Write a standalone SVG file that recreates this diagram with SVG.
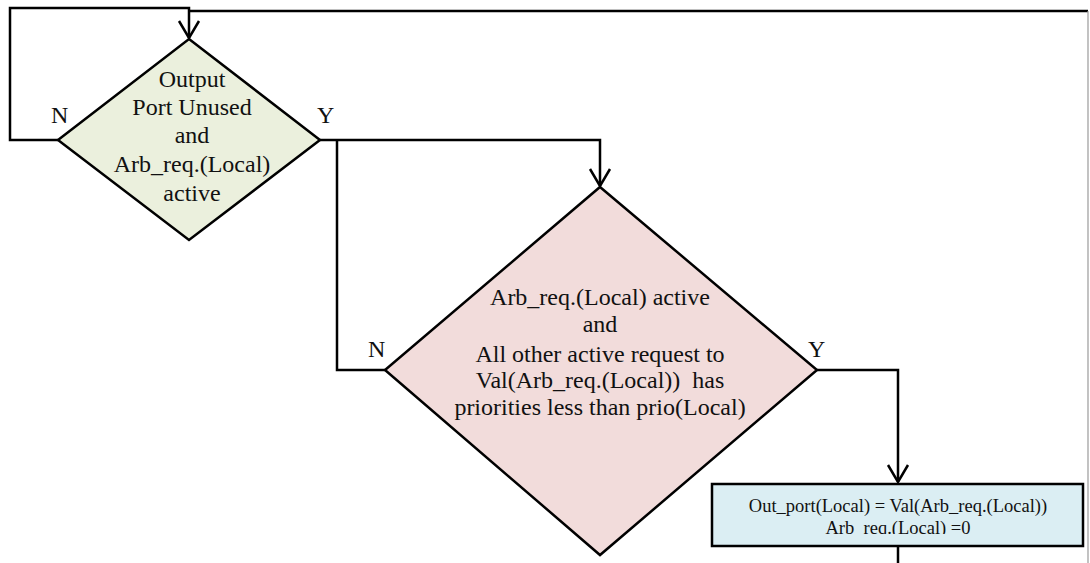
<svg xmlns="http://www.w3.org/2000/svg" width="1090" height="563" viewBox="0 0 1090 563">
  <style>
    .lbl { font-family: "Liberation Serif", "Times New Roman", serif; font-size: 24px; fill: #111; }
    .big { font-family: "Liberation Serif", "Times New Roman", serif; font-size: 24px; fill: #111; text-anchor: middle; }
    .small { font-family: "Liberation Serif", "Times New Roman", serif; font-size: 18.5px; fill: #111; text-anchor: middle; }
    .wire { fill: none; stroke: #000; stroke-width: 2.5; stroke-linejoin: miter; }
    .shape { stroke: #000; stroke-width: 2.5; stroke-linejoin: miter; }
  </style>
  <defs>
    <!-- open V arrowhead, drawn pointing along +x -->
    <marker id="vee" viewBox="-20 -12 22 24" markerWidth="22" markerHeight="24" refX="0" refY="0" markerUnits="userSpaceOnUse" orient="auto">
      <path d="M-17,-10 L0,0 L-17,10" fill="none" stroke="#000" stroke-width="2.5"/>
    </marker>
    <clipPath id="boxClip">
      <rect x="713" y="485" width="368" height="49"/>
    </clipPath>
  </defs>
  <rect width="1090" height="563" fill="#fff"/>

  <!-- connectors -->
  <g id="connectors">
    <!-- N branch of first decision loops back to its top -->
    <path class="wire" d="M58,140 H10 V8 H189 V38" marker-end="url(#vee)"/>
    <!-- return line from the right side -->
    <path class="wire" d="M189,11 H1088"/>
    <line x1="1088" y1="11" x2="1088" y2="563" stroke="#9a9a9a" stroke-width="1.2"/>
    <!-- Y branch to second decision -->
    <path class="wire" d="M320,140 H600 V186" marker-end="url(#vee)"/>
    <!-- N branch of second decision back into the Y line -->
    <path class="wire" d="M385,370 H337 V140"/>
    <!-- Y branch of second decision to the assignment box -->
    <path class="wire" d="M817,370 H898 V482" marker-end="url(#vee)"/>
    <path class="wire" d="M898,546 V563"/>
    <text class="lbl" x="51" y="123">N</text>
    <text class="lbl" x="317" y="123">Y</text>
    <text class="lbl" x="368" y="357">N</text>
    <text class="lbl" x="808" y="357">Y</text>
  </g>

  <!-- decision: output port free -->
  <g id="decision-port">
    <polygon class="shape" points="189,39 320,140 189,240 58,140" fill="#ebf0dd"/>
    <text class="big" x="192" y="87">Output</text>
    <text class="big" x="192" y="115">Port Unused</text>
    <text class="big" x="192" y="143">and</text>
    <text class="big" x="192" y="172">Arb_req.(Local)</text>
    <text class="big" x="192" y="201">active</text>
  </g>

  <!-- decision: local request has top priority -->
  <g id="decision-priority">
    <polygon class="shape" points="600,187 817,370 600,555 385,370" fill="#f2dcdb"/>
    <text class="big" x="600" y="305">Arb_req.(Local) active</text>
    <text class="big" x="600" y="332">and</text>
    <text class="big" x="600" y="362">All other active request to</text>
    <text class="big" x="600" y="388" xml:space="preserve">Val(Arb_req.(Local))  has</text>
    <text class="big" x="600" y="415">priorities less than prio(Local)</text>
  </g>

  <!-- assignment step -->
  <g id="assign-output">
    <rect class="shape" x="712" y="484" width="371" height="62" fill="#dbeef3" stroke-width="3"/>
    <g clip-path="url(#boxClip)">
      <text class="small" x="898" y="512">Out_port(Local) = Val(Arb_req.(Local))</text>
      <text class="small" x="898" y="534">Arb_req.(Local) =0</text>
    </g>
  </g>
</svg>
